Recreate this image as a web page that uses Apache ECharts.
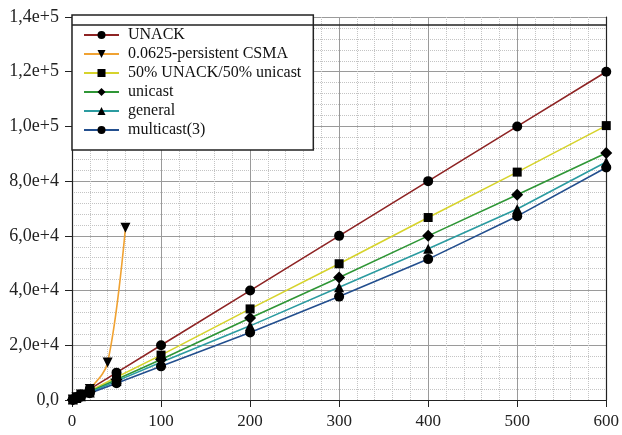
<!DOCTYPE html>
<html>
<head>
<meta charset="utf-8">
<script src="https://cdn.jsdelivr.net/npm/echarts@6/dist/echarts.min.js"></script>
<style>
  html, body { margin: 0; padding: 0; background: #fff; }
  #chart { width: 622px; height: 435px; }
</style>
</head>
<body>
<div id="chart"></div>
<script>
// x positions of the measured points
var xBase = [1, 5, 10, 20, 50, 100, 200, 300, 400, 500, 600]
var xCsma = [1, 5, 10, 20, 40, 60]

// y values
var unack = [200, 1000, 2000, 4000, 10000, 20000, 40000, 60000, 80000, 100000, 120000]
var csma = [200, 1000, 2000, 4000, 13700, 63000]
var half = [167, 833, 1667, 3333, 8333, 16400, 33300, 49800, 66700, 83300, 100300]
var unicast = [150, 750, 1500, 3000, 7500, 14800, 30000, 44800, 60000, 75000, 90300]
var general = [138, 690, 1380, 2760, 6900, 13800, 27100, 41200, 55300, 69800, 87000]
var multicast = [123, 615, 1230, 2460, 6150, 12300, 24700, 37800, 51500, 67200, 85000]

var yTicks = { min: 0, max: 140000, step: 20000 }
var xTicks = { min: 0, max: 600, step: 100 }

function pairs(xs, ys) {
  var out = []
  for (var i = 0; i < xs.length; i++) {
    out.push([xs[i], ys[i]])
  }
  return out
}

function yLabel(v) {
  if (v === 0) return '0,0'
  var e = Math.floor(Math.log10(v))
  var m = v / Math.pow(10, e)
  return m.toFixed(1).replace('.', ',') + 'e+' + e
}

var font = 'Liberation Serif'

function line(name, color, symbol, data, extra) {
  var s = {
    name: name,
    type: 'line',
    data: data,
    symbol: symbol,
    symbolSize: 10,
    lineStyle: { color: color, width: 1.6 },
    itemStyle: { color: '#000' },
    z: 3
  }
  for (var k in extra) s[k] = extra[k]
  return s
}

var myChart = echarts.init(document.getElementById('chart'))
var option = {
  animation: false,
  backgroundColor: '#fff',
  grid: { left: 72, right: 15, top: 17, bottom: 35 },
  legend: {
    orient: 'vertical',
    left: 72,
    top: 15,
    padding: [12, 12, 12, 11],
    itemWidth: 35,
    itemHeight: 10,
    itemGap: 3,
    backgroundColor: '#fff',
    borderColor: '#222',
    borderWidth: 1.5,
    textStyle: { fontFamily: font, fontSize: 16, color: '#111', lineHeight: 16, padding: [0, 0, 0, 4] },
    data: ['UNACK', '0.0625-persistent CSMA', '50% UNACK/50% unicast', 'unicast', 'general', 'multicast(3)']
  },
  xAxis: {
    type: 'value',
    min: xTicks.min,
    max: xTicks.max,
    interval: xTicks.step,
    axisLine: { show: true, onZero: false, lineStyle: { color: '#222', width: 1.2 } },
    axisTick: { show: true, length: 7, lineStyle: { color: '#222' } },
    axisLabel: { fontFamily: font, fontSize: 17, color: '#222', margin: 13 },
    splitLine: { show: true, lineStyle: { color: '#9a9a9a', width: 1 } },
    minorTick: { show: false, splitNumber: 5 },
    minorSplitLine: { show: true, lineStyle: { color: '#c4c4c4', type: 'dotted', width: 1 } }
  },
  yAxis: [
    {
      type: 'value',
      min: yTicks.min,
      max: yTicks.max,
      interval: yTicks.step,
      axisLine: { show: true, onZero: false, lineStyle: { color: '#222', width: 1.2 } },
      axisTick: { show: true, length: 7, lineStyle: { color: '#222' } },
      axisLabel: { fontFamily: font, fontSize: 18, color: '#222', margin: 13, formatter: yLabel },
      splitLine: { show: true, lineStyle: { color: '#9a9a9a', width: 1 } },
      minorTick: { show: false, splitNumber: 5 },
      minorSplitLine: { show: true, lineStyle: { color: '#c4c4c4', type: 'dotted', width: 1 } }
    },
    {
      type: 'value',
      position: 'right',
      min: yTicks.min,
      max: yTicks.max,
      interval: yTicks.step,
      axisLine: { show: true, onZero: false, lineStyle: { color: '#222', width: 1.2 } },
      axisTick: { show: false },
      axisLabel: { show: false },
      splitLine: { show: false }
    }
  ],
  series: [
    line('UNACK', '#8e2424', 'circle', pairs(xBase, unack), {
      markLine: {
        silent: true,
        symbol: ['none', 'none'],
        label: { show: false },
        lineStyle: { color: '#222', type: 'solid', width: 1.5 },
        data: [{ yAxis: 137000 }]
      }
    }),
    line('0.0625-persistent CSMA', '#f0a232', 'triangle', pairs(xCsma, csma), { symbolRotate: 180, smooth: 0.35 }),
    line('50% UNACK/50% unicast', '#d6d32c', 'rect', pairs(xBase, half), { symbolSize: 9 }),
    line('unicast', '#2f9636', 'diamond', pairs(xBase, unicast), { symbolSize: 12 }),
    line('general', '#2b9ba0', 'triangle', pairs(xBase, general)),
    line('multicast(3)', '#234f8e', 'circle', pairs(xBase, multicast))
  ]
}
myChart.setOption(option)
</script>
</body>
</html>
